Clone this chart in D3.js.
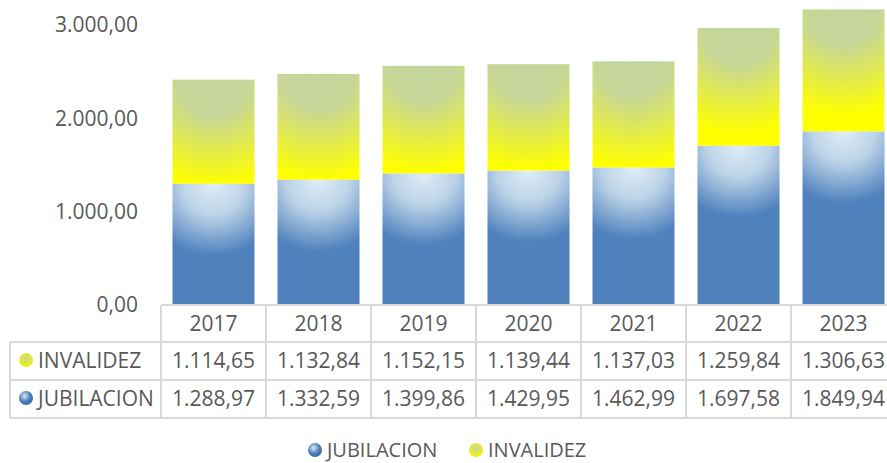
<!DOCTYPE html>
<html>
<head>
<meta charset="utf-8">
<script src="https://cdn.jsdelivr.net/npm/d3@7"></script>
<style>
  body { margin: 0; background: #fff; }
  text { font-family: "Open Sans", sans-serif; fill: #595959; }
</style>
</head>
<body>
<svg width="887" height="463"></svg>
<script>
var years = ["2017", "2018", "2019", "2020", "2021", "2022", "2023"];
var jubilacion = [1288.97, 1332.59, 1399.86, 1429.95, 1462.99, 1697.58, 1849.94];
var invalidez = [1114.65, 1132.84, 1152.15, 1139.44, 1137.03, 1259.84, 1306.63];
var yTicks = [0, 1000, 2000, 3000];

var loc = d3.formatLocale({decimal: ",", thousands: ".", grouping: [3], currency: ["", ""]});
var fmt = loc.format(",.2f");

var svg = d3.select("svg");
var defs = svg.append("defs");

var tableLeft = 161, tableRight = 896;
var y0 = 304;

var xCol = d3.scaleBand().domain(years).range([tableLeft, tableRight]);
var x = d3.scaleBand().domain(years).range([tableLeft, tableRight])
    .paddingInner(0.219).paddingOuter(0.1095);
var y = d3.scaleLinear().domain([0, 3000]).range([y0, 24]);

var data = years.map(function(yr, i) {
    return {year: yr, jub: jubilacion[i], inv: invalidez[i]};
});

// gradients per bar segment
function radial(id, cx, cy, r, stops) {
    var g = defs.append("radialGradient").attr("id", id)
        .attr("gradientUnits", "userSpaceOnUse")
        .attr("cx", cx).attr("cy", cy).attr("r", r)
        .attr("fx", cx).attr("fy", cy);
    stops.forEach(function(s) {
        g.append("stop").attr("offset", s[0]).attr("stop-color", s[1]);
    });
}

data.forEach(function(d, i) {
    var cx = x(d.year) + x.bandwidth() / 2;
    radial("gj" + i, cx, y(d.jub), 90, [[0, "#e0eef5"], [0.35, "#bcd3e8"], [0.8, "#4f81bd"], [1, "#4f81bd"]]);
    radial("gi" + i, cx, y(d.jub + d.inv), 120, [[0, "#c4d59d"], [0.3, "#c6d698"], [0.88, "#ffff00"], [1, "#ffff00"]]);
});

var g = svg.append("g");

g.selectAll(".jub").data(data).enter().append("rect")
    .attr("class", "jub")
    .attr("x", function(d) { return x(d.year); })
    .attr("width", x.bandwidth())
    .attr("y", function(d) { return y(d.jub); })
    .attr("height", function(d) { return y0 - y(d.jub); })
    .attr("fill", function(d, i) { return "url(#gj" + i + ")"; });

g.selectAll(".inv").data(data).enter().append("rect")
    .attr("class", "inv")
    .attr("x", function(d) { return x(d.year); })
    .attr("width", x.bandwidth())
    .attr("y", function(d) { return y(d.jub + d.inv); })
    .attr("height", function(d) { return y(d.jub) - y(d.jub + d.inv); })
    .attr("fill", function(d, i) { return "url(#gi" + i + ")"; });

// y axis labels
svg.append("g").selectAll("text").data(yTicks).enter().append("text")
    .attr("x", 138)
    .attr("y", function(d) { return y(d) + 1; })
    .attr("dy", "0.35em")
    .attr("text-anchor", "end")
    .attr("font-size", "21px")
    .text(function(d) { return fmt(d); });

// data table
var rowTop = [305, 342, 380, 418];
var grid = svg.append("g").attr("stroke", "#d9d9d9").attr("stroke-width", 2);
grid.append("line").attr("x1", tableLeft).attr("x2", tableRight).attr("y1", rowTop[0]).attr("y2", rowTop[0]);
[1, 2, 3].forEach(function(k) {
    grid.append("line").attr("x1", 10).attr("x2", tableRight).attr("y1", rowTop[k]).attr("y2", rowTop[k]);
});
grid.append("line").attr("x1", 10).attr("x2", 10).attr("y1", rowTop[1]).attr("y2", rowTop[3]);
grid.selectAll(".v").data(years).enter().append("line")
    .attr("x1", function(d) { return xCol(d); })
    .attr("x2", function(d) { return xCol(d); })
    .attr("y1", rowTop[0]).attr("y2", rowTop[3]);

var tbl = svg.append("g").attr("font-size", "21px").attr("text-anchor", "middle");
tbl.selectAll(".yr").data(years).enter().append("text")
    .attr("x", function(d) { return xCol(d) + xCol.bandwidth() / 2; })
    .attr("y", 324).attr("dy", "0.35em")
    .text(function(d) { return d; });
tbl.selectAll(".vi").data(invalidez).enter().append("text")
    .attr("x", function(d, i) { return xCol(years[i]) + xCol.bandwidth() / 2; })
    .attr("y", 361).attr("dy", "0.35em")
    .text(function(d) { return fmt(d); });
tbl.selectAll(".vj").data(jubilacion).enter().append("text")
    .attr("x", function(d, i) { return xCol(years[i]) + xCol.bandwidth() / 2; })
    .attr("y", 399).attr("dy", "0.35em")
    .text(function(d) { return fmt(d); });

// marker gradients
var mb = defs.append("radialGradient").attr("id", "mkJ").attr("cx", 0.4).attr("cy", 0.35).attr("r", 0.65);
mb.append("stop").attr("offset", 0).attr("stop-color", "#dce9f5");
mb.append("stop").attr("offset", 0.6).attr("stop-color", "#4f81bd");
mb.append("stop").attr("offset", 1).attr("stop-color", "#3a6aa5");
var my = defs.append("radialGradient").attr("id", "mkI").attr("cx", 0.5).attr("cy", 0.4).attr("r", 0.6);
my.append("stop").attr("offset", 0).attr("stop-color", "#c4d59d");
my.append("stop").attr("offset", 1).attr("stop-color", "#f4f400");

// row labels
var rows = [{name: "INVALIDEZ", fill: "url(#mkI)", y: 361}, {name: "JUBILACION", fill: "url(#mkJ)", y: 399}];
rows.forEach(function(r) {
    svg.append("circle").attr("cx", 26).attr("cy", r.y - 1).attr("r", 7).attr("fill", r.fill);
    svg.append("text").attr("x", 38).attr("y", r.y).attr("dy", "0.35em")
        .attr("font-size", "21px").text(r.name);
});

// legend
var legend = [{name: "JUBILACION", fill: "url(#mkJ)", x: 315}, {name: "INVALIDEZ", fill: "url(#mkI)", x: 476}];
legend.forEach(function(l) {
    svg.append("circle").attr("cx", l.x).attr("cy", 450).attr("r", 7).attr("fill", l.fill);
    svg.append("text").attr("x", l.x + 12).attr("y", 450).attr("dy", "0.35em")
        .attr("font-size", "20px").text(l.name);
});
</script>
</body>
</html>
